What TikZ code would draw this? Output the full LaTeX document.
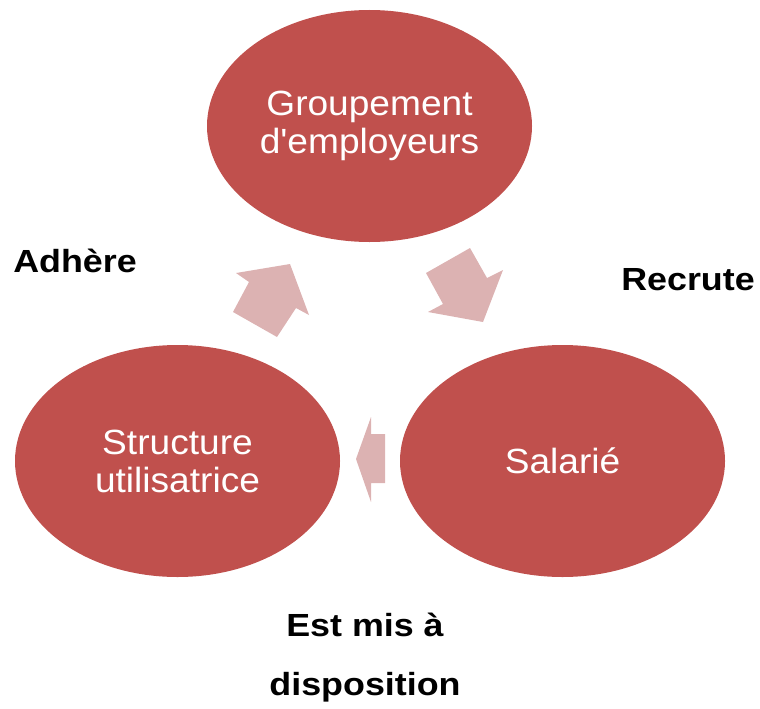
\documentclass[tikz,border=0pt]{standalone}
\usepackage{fontspec}
\setmainfont{Liberation Sans}
\newfontfamily\bubblefont[FakeStretch=1.06]{Liberation Sans}
\newfontfamily\verbfont[FakeStretch=1.12]{Liberation Sans}
\usetikzlibrary{shapes.geometric}
\definecolor{bubblered}{HTML}{C0504D}
\definecolor{arrowpink}{HTML}{DCB2B2}
\begin{document}
\begin{tikzpicture}[x=1pt,y=-1pt,
    bubble/.style={ellipse,fill=bubblered,draw=none,minimum width=325pt,
      minimum height=232pt,inner sep=0pt,text=white,align=center,
      font=\bubblefont\fontsize{35}{38}\selectfont},
    verb/.style={anchor=base,font=\verbfont\bfseries\fontsize{32}{40}\selectfont}]
      \useasboundingbox (0,0) rectangle (760,709);
      \draw
        (369.5,126) node[bubble] (grp){Groupement\\d'employeurs}
        (562.5,461) node[bubble] (sal){Salarié}
        (177.5,461) node[bubble] (str){Structure\\utilisatrice};
      \begin{scope}[fill=arrowpink]
        \fill (249,282) -- (236,273) -- (290,264) -- (309,315) -- (296,308) -- (277,337) -- (233,312) -- cycle;
        \fill (426,273) -- (470,248) -- (487,278) -- (503,270) -- (483,322) -- (428,312) -- (443,304) -- cycle;
        \fill (356,459) -- (371,417) -- (371,434) -- (385,434) -- (385,483) -- (371,483) -- (371,502) -- cycle;
      \end{scope}
      \draw
        (75,272) node[verb] (adh){Adhère}
        (688,290) node[verb] (rec){Recrute}
        (365,636) node[verb] (mis){Est mis à}
        (365,695) node[verb] (dis){disposition};
    \end{tikzpicture}
\end{document}
